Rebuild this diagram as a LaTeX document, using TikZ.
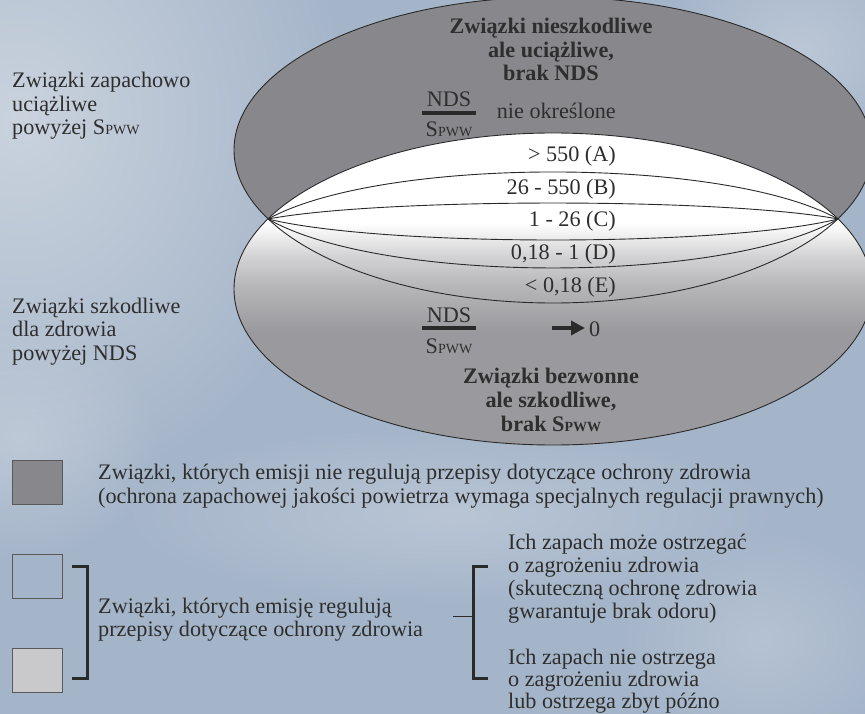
\documentclass[tikz,border=0pt]{standalone}
\usepackage{fontspec}
\setmainfont{Liberation Serif}
\usetikzlibrary{arrows.meta,fadings}

\definecolor{bgA}{HTML}{A5B5C9}
\definecolor{bgL}{HTML}{CAD3DE}
\definecolor{topg}{HTML}{88878C}
\definecolor{lowg}{HTML}{9A9A9E}
\definecolor{lightg}{HTML}{C9C9CC}
\definecolor{ink}{HTML}{2A2A2A}
\definecolor{txt}{HTML}{2E2E2E}

\pgfdeclareverticalshading{lowgrad}{100bp}{color(0bp)=(lowg); color(43bp)=(lowg); color(50.5bp)=(lowg!72!white); color(55.5bp)=(lowg!42!white); color(60.5bp)=(white); color(100bp)=(white)}
\tikzfading[name=fadeR, left color=transparent!0, right color=transparent!100]
\tikzfading[name=softR, inner color=transparent!0, outer color=transparent!100]

\newcommand{\spww}{S{\fontsize{14}{14}\selectfont PWW}}

\tikzset{
  t/.style={font=\fontsize{22.2}{23.5}\selectfont, text=txt, inner sep=0pt},
  tl/.style={t, anchor=base west},
  tr/.style={t, anchor=base east},
  tc/.style={t, anchor=base},
  tb/.style={t, anchor=base, font=\fontsize{22.2}{23.5}\selectfont\bfseries},
  outl/.style={draw=ink, line width=0.9pt},
  band/.style={draw=ink, line width=0.9pt},
  fracbar/.style={draw=ink, line width=4pt},
  sq/.style={draw=black!65, line width=0.9pt},
  brk/.style={draw=ink, line width=3pt, miter limit=10},
  thin/.style={draw=ink, line width=0.8pt},
}

\begin{document}
\begin{tikzpicture}[x=1pt,y=-1pt]
\useasboundingbox (0,0) rectangle (865,714);
% background
\fill[bgA] (0,0) rectangle (865,714);
\fill[bgL, path fading=softR] (20,120) ellipse [x radius=330, y radius=380];
\fill[bgL, opacity=0.6, path fading=softR] (20,440) ellipse [x radius=140, y radius=120];
\fill[white, opacity=0.22, path fading=softR] (450,515) ellipse [x radius=330, y radius=90];
\fill[white, opacity=0.25, path fading=softR] (800,50) ellipse [x radius=140, y radius=110];
\fill[white, opacity=0.18, path fading=softR] (760,640) ellipse [x radius=140, y radius=110];

% ellipses
\coordinate (Ct) at (553,150);
\coordinate (Cb) at (553,289);
\fill[topg] (Ct) ellipse [x radius=319, y radius=153];
\shade[shading=lowgrad] (Cb) ellipse [x radius=319, y radius=156];
\draw[outl] (Ct) ellipse [x radius=319, y radius=153];
\draw[outl] (Cb) ellipse [x radius=319, y radius=156];

% bands
\coordinate (L) at (268,219);
\coordinate (R) at (838,219);
\draw[band] (L) .. controls (382,156.3) and (724,156.3) .. (R);
\draw[band] (L) .. controls (382,197.7) and (724,197.7) .. (R);
\draw[band] (L) .. controls (382,247) and (724,247) .. (R);
\draw[band] (L) .. controls (382,284.3) and (724,284.3) .. (R);

% top texts
\node[tb] (t1) at (551,34) {Związki nieszkodliwe};
\node[tb] (t2) at (551,57.5) {ale uciążliwe,};
\node[tb] (t3) at (551,81) {brak NDS};
\node[tc] (f1n) at (449,107) {NDS};
\coordinate (f1a) at (422,113);
\coordinate (f1b) at (476,113);
\draw[fracbar] (f1a) -- (f1b);
\node[tc] (f1d) at (449,137) {\spww};
\node[tr] (nie) at (616,119) {nie określone};
\node[tr] (bA) at (616,162) {> 550 (A)};
\node[tr] (bB) at (616,195) {26 - 550 (B)};
\node[tr] (bC) at (616,227) {1 - 26 (C)};
\node[tr] (bD) at (616,260) {0,18 - 1 (D)};
\node[tr] (bE) at (616,292) {< 0,18 (E)};
\node[tc] (f2n) at (449,322) {NDS};
\coordinate (f2a) at (422,328);
\coordinate (f2b) at (476,328);
\draw[fracbar] (f2a) -- (f2b);
\node[tc] (f2d) at (449,353) {\spww};
\coordinate (ar1) at (552,328);
\coordinate (ar2) at (585,328);
\draw[draw=ink, line width=4.5pt, -{Triangle[length=14pt,width=14pt]}] (ar1) -- (ar2);
\node[tl] (zero) at (589,336) {0};
\node[tb] (b1) at (551,383) {Związki bezwonne};
\node[tb] (b2) at (551,407) {ale szkodliwe,};
\node[tb] (b3) at (551,431) {brak \spww};

% left labels
\node[tl] (l1) at (12,88) {Związki zapachowo};
\node[tl] (l2) at (12,111.5) {uciążliwe};
\node[tl] (l3) at (12,135) {powyżej \spww};
\node[tl] (l4) at (12,313) {Związki szkodliwe};
\node[tl] (l5) at (12,336.5) {dla zdrowia};
\node[tl] (l6) at (12,360) {powyżej NDS};

% legend
\draw[sq, fill=topg] (12,460) rectangle (62,504);
\draw[sq] (12,554) rectangle (62,598);
\draw[sq, fill=lightg] (12,648) rectangle (62,692);
\node[tl] (g1) at (98,479) {Związki, których emisji nie regulują przepisy dotyczące ochrony zdrowia};
\node[tl] (g2) at (98,503) {(ochrona zapachowej jakości powietrza wymaga specjalnych regulacji prawnych)};
\draw[brk] (72,566) -- (87,566) -- (87,678) -- (72,678);
\node[tl] (g3) at (98,613) {Związki, których emisję regulują};
\node[tl] (g4) at (98,636) {przepisy dotyczące ochrony zdrowia};
\coordinate (c1) at (453,616);
\coordinate (c2) at (473,616);
\draw[thin] (c1) -- (c2);
\draw[brk] (488,566) -- (473,566) -- (473,678) -- (488,678);
\node[tl] (r1) at (508,549) {Ich zapach może ostrzegać};
\node[tl] (r2) at (508,572) {o zagrożeniu zdrowia};
\node[tl] (r3) at (508,595) {(skuteczną ochronę zdrowia};
\node[tl] (r4) at (508,618) {gwarantuje brak odoru)};
\node[tl] (r5) at (508,664) {Ich zapach nie ostrzega};
\node[tl] (r6) at (508,686) {o zagrożeniu zdrowia};
\node[tl] (r7) at (508,708) {lub ostrzega zbyt późno};
\end{tikzpicture}
\end{document}
